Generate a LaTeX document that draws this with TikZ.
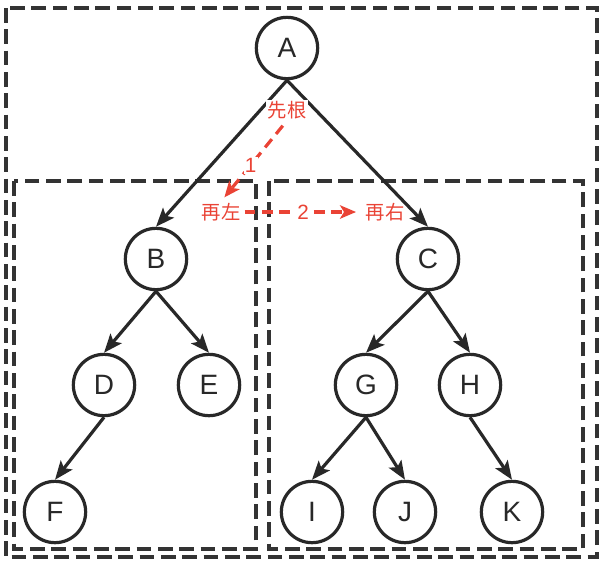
\documentclass[tikz,border=0pt]{standalone}
\usepackage{fontspec}
\setmainfont{Liberation Sans}
\newfontfamily\cjk{Noto Sans CJK SC}
\usetikzlibrary{arrows.meta}
\definecolor{dk}{RGB}{40,40,40}
\definecolor{bx}{RGB}{51,51,51}
\definecolor{rd}{RGB}{234,67,53}
\begin{document}
\begin{tikzpicture}[x=0.75pt,y=-0.75pt,
  tn/.style={circle,draw=dk,line width=2.4pt,minimum size=46pt,inner sep=0pt,font=\fontsize{21}{25}\selectfont,text=dk},
  edge/.style={draw=dk,line width=2.4pt,-{Stealth[length=14pt,width=11pt,inset=3pt]}},
  dbox/.style={draw=bx,line width=2.6pt,dash pattern=on 11pt off 5pt},
  rlab/.style={text=rd,font=\cjk\fontsize{14.5}{17}\selectfont,inner sep=1pt},
  rnum/.style={text=rd,font=\fontsize{15.5}{18}\selectfont,fill=white,inner sep=1pt},
  rarr/.style={draw=rd,line width=2.4pt,dash pattern=on 8pt off 5pt,-{Stealth[length=12pt,width=10pt,inset=3pt]}}]
\useasboundingbox[fill=white] (0,0) rectangle (604,562);
\draw[dbox] (6,8) rectangle (597,557);
\draw[dbox] (14,181) rectangle (256,549);
\draw[dbox] (269,181) rectangle (583,549);
\node[tn] (A) at (287,48) {A};
\node[tn] (B) at (156,259) {B};
\node[tn] (C) at (428,259) {C};
\node[tn] (D) at (104,385) {D};
\node[tn] (E) at (209,385) {E};
\node[tn] (G) at (366,385) {G};
\node[tn] (H) at (470,385) {H};
\node[tn] (F) at (55,512) {F};
\node[tn] (I) at (312,512) {I};
\node[tn] (J) at (405,512) {J};
\node[tn] (K) at (512,512) {K};
\draw[edge] (A.south) -- (B.north);
\draw[edge] (A.south) -- (C.north);
\draw[edge] (B.south) -- (D.north);
\draw[edge] (B.south) -- (E.north);
\draw[edge] (C.south) -- (G.north);
\draw[edge] (C.south) -- (H.north);
\draw[edge] (D.south) -- (F.north);
\draw[edge] (G.south) -- (I.north);
\draw[edge] (G.south) -- (J.north);
\draw[edge] (H.south) -- (K.north);
\node[rlab,fill=white] (root) at (287,110) {先根};
\node[rlab] (left) at (221,212) {再左};
\node[rlab] (right) at (385,212) {再右};
\draw[rarr,shorten <=5pt,shorten >=4pt] (root.south) -- node[rnum,pos=0.55] {1} (left.north);
\draw[rarr,shorten <=2pt,shorten >=6pt] (left.east) -- node[rnum] {2} (right.west);
\end{tikzpicture}
\end{document}
